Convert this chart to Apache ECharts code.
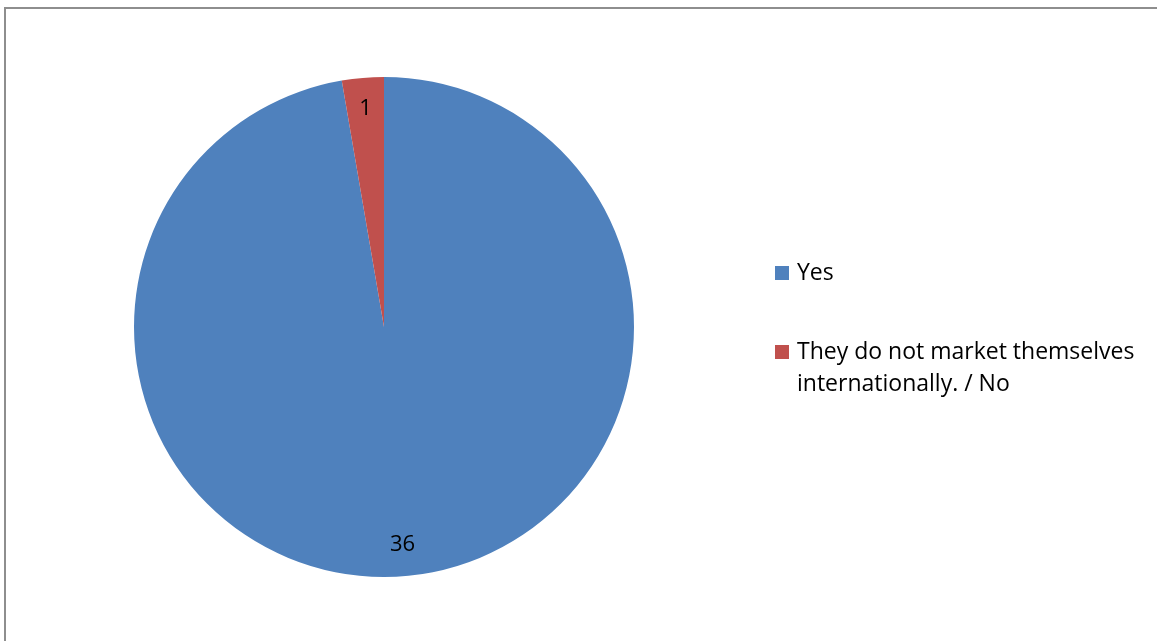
<!DOCTYPE html>
<html>
<head>
<meta charset="utf-8">
<script src="https://cdn.jsdelivr.net/npm/echarts@6/dist/echarts.min.js"></script>
<style>
html,body{margin:0;padding:0;background:#fff;}
#frame{position:absolute;left:4px;top:7px;width:1153px;height:634px;border-left:2px solid #8e8e8e;border-top:2px solid #8e8e8e;}
#chart{position:absolute;left:0;top:0;width:1157px;height:641px;}
</style>
</head>
<body>
<div id="frame"></div>
<div id="chart"></div>
<script>
const categories = ['Yes', 'They do not market themselves\ninternationally. / No'];
const values = [36, 1];
const colors = ['#4F81BD', '#C0504D'];

const font = 'Open Sans';
const data = categories.map((c, i) => ({ name: c, value: values[i], itemStyle: { color: colors[i] } }));

const chart = echarts.init(document.getElementById('chart'), null, { renderer: 'canvas' });
chart.setOption({
  animation: false,
  backgroundColor: 'transparent',
  legend: [
    {
      orient: 'vertical', left: 770, top: 252,
      itemWidth: 14, itemHeight: 14, icon: 'rect',
      data: [categories[0]],
      textStyle: { fontFamily: font, fontSize: 23, color: '#000', lineHeight: 32, padding: [0, 0, 0, 3] }
    },
    {
      orient: 'vertical', left: 770, top: 299,
      itemWidth: 14, itemHeight: 14, icon: 'rect',
      data: [categories[1]],
      formatter: name => ' \n' + name,
      textStyle: { fontFamily: font, fontSize: 23, color: '#000', lineHeight: 32, padding: [0, 0, 0, 3] }
    }
  ],
  series: [
    {
      type: 'pie', center: [384, 327], radius: [0, 250],
      startAngle: 90, clockwise: true,
      label: { show: false }, labelLine: { show: false },
      silent: true,
      data: data
    },
    {
      type: 'pie', center: [384, 327], radius: [182, 250],
      startAngle: 90, clockwise: true,
      silent: true,
      legendHoverLink: false,
      itemStyle: { color: 'rgba(0,0,0,0)' },
      label: { show: true, position: 'inside', fontFamily: font, fontSize: 22, color: '#000', formatter: '{c}' },
      labelLine: { show: false },
      data: categories.map((c, i) => ({ name: c, value: values[i], itemStyle: { color: 'rgba(0,0,0,0)' } }))
    }
  ]
});
</script>
</body>
</html>
